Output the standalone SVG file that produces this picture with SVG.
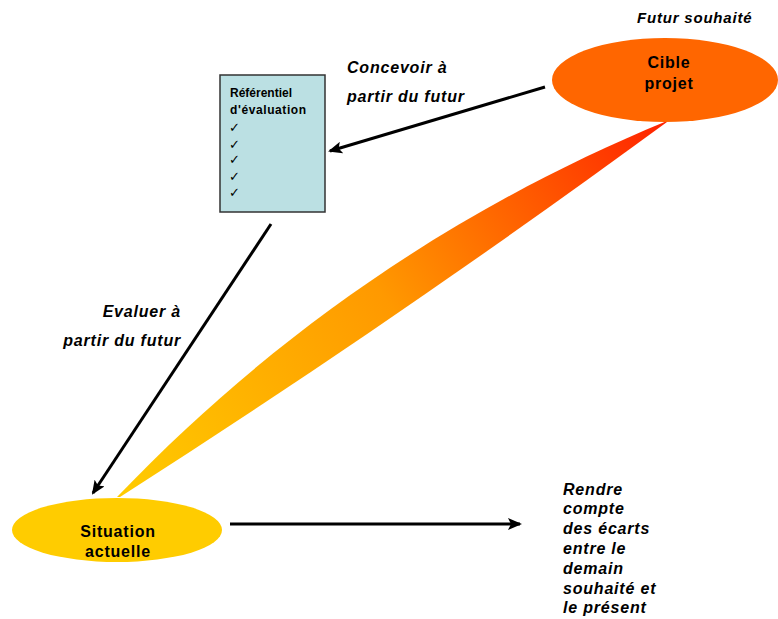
<svg xmlns="http://www.w3.org/2000/svg" width="778" height="619" viewBox="0 0 778 619">
<style>
.lbl{font-family:"Liberation Sans",Arial,sans-serif;font-weight:bold;font-style:italic;fill:#000;letter-spacing:0.8px}
.nd{font-family:"Liberation Sans",Arial,sans-serif;font-weight:bold;fill:#000}
.big{font-size:16px;letter-spacing:0.8px}
.chk{font-family:"DejaVu Sans",sans-serif;font-size:13px;font-weight:bold;fill:#000}
.conn{stroke:#000;stroke-width:3;fill:none}
</style>
<defs>
<marker id="ah" markerUnits="userSpaceOnUse" markerWidth="14" markerHeight="12" refX="12" refY="6" orient="auto">
<path d="M0,0 L14,6 L0,12 L3,6 Z" fill="#000"/>
</marker>
<linearGradient id="comet" gradientUnits="userSpaceOnUse" x1="117" y1="497" x2="667" y2="121">
<stop offset="0" stop-color="#FFCC00"/>
<stop offset="0.5" stop-color="#FF9900"/>
<stop offset="1" stop-color="#FF2200"/>
</linearGradient>
</defs>
<rect width="778" height="619" fill="#fff"/>
<path id="comet-band" fill="url(#comet)" d="M667,121 C457,207.5 273.7,333 117,497 L120,497 C306.3,377.8 488.7,252.8 667,122 Z"/>
<g id="connectors">
<line class="conn" x1="545" y1="87" x2="330" y2="151" marker-end="url(#ah)"/>
<line class="conn" x1="271" y1="224" x2="93" y2="493" marker-end="url(#ah)"/>
<line class="conn" x1="230" y1="524" x2="520" y2="524" marker-end="url(#ah)"/>
</g>
<g id="cible">
<ellipse cx="665" cy="80" rx="113" ry="42" fill="#FF6600"/>
<text class="nd big" x="669" y="68" text-anchor="middle">Cible</text>
<text class="nd big" x="669" y="89" text-anchor="middle">projet</text>
</g>
<g id="referentiel">
<rect x="220" y="75" width="105" height="137" fill="#BBE0E3" stroke="#333" stroke-width="1.5"/>
<text class="nd" x="230" y="97" font-size="12">Référentiel</text>
<text class="nd" x="230" y="114" font-size="12" letter-spacing="0.6">d'évaluation</text>
<text class="chk" x="229" y="132">✓</text>
<text class="chk" x="229" y="149">✓</text>
<text class="chk" x="229" y="164">✓</text>
<text class="chk" x="229" y="181">✓</text>
<text class="chk" x="229" y="197">✓</text>
</g>
<g id="situation">
<ellipse cx="117" cy="530" rx="105" ry="32" fill="#FFCC00"/>
<text class="nd big" x="118" y="537" text-anchor="middle">Situation</text>
<text class="nd big" x="118" y="557" text-anchor="middle">actuelle</text>
</g>
<g id="labels">
<text class="lbl" x="637" y="23" font-size="15">Futur souhaité</text>
<text class="lbl" x="347" y="73" font-size="16">Concevoir à</text>
<text class="lbl" x="347" y="102" font-size="16">partir du futur</text>
<text class="lbl" x="181" y="317" font-size="16" text-anchor="end">Evaluer à</text>
<text class="lbl" x="181" y="346" font-size="16" text-anchor="end">partir du futur</text>
<text class="lbl" font-size="16" x="563">
<tspan x="563" y="495">Rendre</tspan>
<tspan x="563" y="514">compte</tspan>
<tspan x="563" y="534">des écarts</tspan>
<tspan x="563" y="554">entre le</tspan>
<tspan x="563" y="574">demain</tspan>
<tspan x="563" y="594">souhaité et</tspan>
<tspan x="563" y="613">le présent</tspan>
</text>
</g>
</svg>
